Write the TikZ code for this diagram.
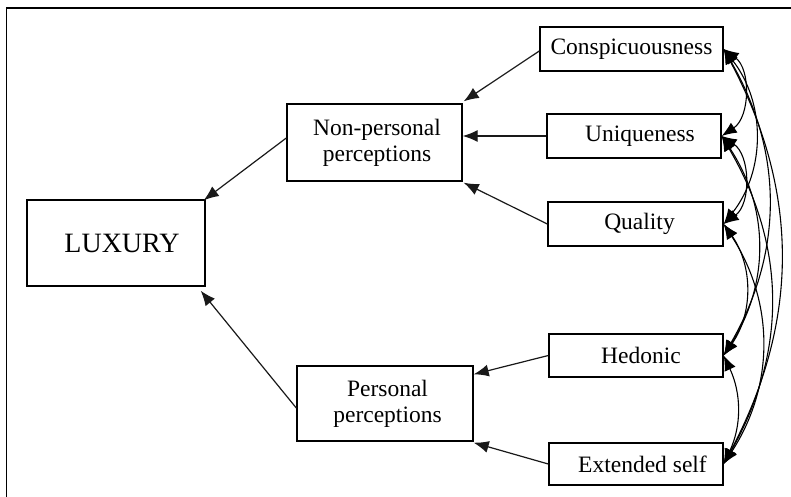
\documentclass[tikz,border=0pt]{standalone}
\usepackage{fontspec}
\setmainfont{Liberation Serif}
\usetikzlibrary{arrows.meta}
\tikzset{
  box/.style={draw=black, line width=1.4pt, inner sep=0pt, align=center,
    font=\fontsize{23.5}{26}\selectfont},
  link/.style={draw=black!90, line width=1.2pt, -{Latex[length=15pt,width=12pt]}},
  corr/.style={draw=black, line width=1.1pt, {Latex[length=15pt,width=12pt]}-{Latex[length=15pt,width=12pt]}},
}
\begin{document}
\begin{tikzpicture}[x=1pt,y=-1pt]
\useasboundingbox (0,0) rectangle (791,497);
\clip (0,0) rectangle (791,497);
\draw[line width=1.5pt] (6.5,8) rectangle (820,530);

\node[box, minimum width=178pt, minimum height=86pt, font=\fontsize{28}{30}\selectfont] (lux) at (116,243) {\hspace*{12pt}LUXURY};
\node[box, minimum width=175pt, minimum height=77pt] (np) at (374.5,142.5) {\hspace*{5pt}Non-personal\\\hspace*{5pt}perceptions};
\node[box, minimum width=176pt, minimum height=75pt] (pp) at (385,403.5) {\hspace*{5pt}Personal\\\hspace*{5pt}perceptions};

\node[box, minimum width=183pt, minimum height=44pt] (con) at (631.5,49) {Conspicuousness};
\node[box, minimum width=174pt, minimum height=44pt] (uni) at (634,136) {\hspace*{12pt}Uniqueness};
\node[box, minimum width=175pt, minimum height=44pt] (qua) at (635.5,224) {\hspace*{8pt}Quality};
\node[box, minimum width=174pt, minimum height=43pt] (hed) at (636,355.5) {\hspace*{10pt}Hedonic};
\node[box, minimum width=174pt, minimum height=42pt] (ext) at (636,464) {\hspace*{13pt}Extended self};

\draw[link] ([yshift=4.5pt]np.west) -- ([xshift=-2pt,yshift=-1pt]lux.north east);
\draw[link] ([yshift=-4.5pt]pp.west) -- ([xshift=-5pt,yshift=-4pt]lux.south east);
\draw[link] ([yshift=-2pt]con.west) -- ([xshift=1pt,yshift=2pt]np.north east);
\draw[link] (uni.west) -- (uni.west -| np.east);
\draw[link] (qua.west) -- ([xshift=1pt,yshift=-1pt]np.south east);
\draw[link] (hed.west) -- ([yshift=-9pt]pp.north east);
\draw[link] (ext.west) -- ([yshift=-1pt]pp.south east);

\draw[corr] (con.east) to[bend left=55] (uni.east);
\draw[corr] (con.east) to[bend left=38] (qua.east);
\draw[corr] (con.east) to[bend left=30] (hed.east);
\draw[corr] (con.east) to[bend left=28] (ext.east);
\draw[corr] (uni.east) to[bend left=55] (qua.east);
\draw[corr] (uni.east) to[bend left=33] (hed.east);
\draw[corr] (uni.east) to[bend left=30] (ext.east);
\draw[corr] (qua.east) to[bend left=35] (hed.east);
\draw[corr] (qua.east) to[bend left=33] (ext.east);
\draw[corr] (hed.east) to[bend left=25] (ext.east);
\end{tikzpicture}
\end{document}
